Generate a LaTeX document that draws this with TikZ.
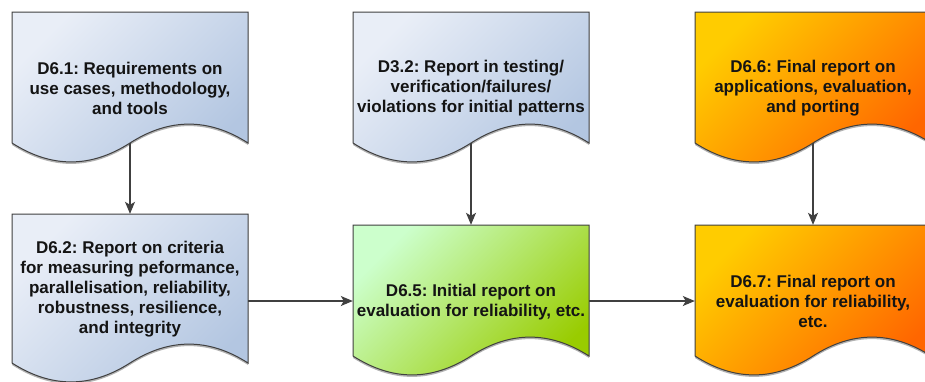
\documentclass[tikz,border=0pt]{standalone}
\usepackage{fontspec}
\setmainfont{Liberation Sans}
\frenchspacing
\usetikzlibrary{arrows.meta,shadows,calc}
\definecolor{bluetl}{HTML}{E9EEF7}
\definecolor{bluebr}{HTML}{B3C6E1}
\definecolor{greentl}{HTML}{CCFFCC}
\definecolor{greenbr}{HTML}{99CC00}
\definecolor{orangetl}{HTML}{FFCC00}
\definecolor{orangebr}{HTML}{FF6600}
\definecolor{edgecol}{HTML}{404040}
\definecolor{txtcol}{HTML}{141414}
\tikzset{
  docshape/.style={draw=edgecol, line width=1pt,
    drop shadow={shadow xshift=0pt, shadow yshift=-2pt, opacity=0.3, fill=black}},
  bluedoc/.style={top color=bluetl, bottom color=bluebr, shading angle=45},
  greendoc/.style={top color=greentl, bottom color=greenbr, shading angle=45},
  orangedoc/.style={top color=orangetl, bottom color=orangebr, shading angle=45},
  docframe/.style={inner sep=0pt, minimum width=236pt},
  doctext/.style={inner sep=0pt, align=center,
    font=\bfseries\fontsize{17}{20}\selectfont, text=txtcol},
  link/.style={draw=edgecol, line width=1.1pt,
    -{Stealth[length=12pt,width=10pt,inset=3pt]}},
}
% name, left, top, height, wave depth, style, text offset, text
\newcommand\docbox[8]{%
  \pgfmathsetmacro\dbR{#2+236}%
  \pgfmathsetmacro\dbM{#2+118}%
  \pgfmathsetmacro\dbE{#3+#4-#5/2}%
  \pgfmathsetmacro\dbU{\dbE-0.6*#5}%
  \pgfmathsetmacro\dbD{\dbE+0.6*#5}%
  \pgfmathsetmacro\dbC{#3+#4/2}%
  \path[docshape,#6] (#2,#3) -- (\dbR,#3) -- (\dbR,\dbE)
    .. controls (\dbR-39.33,\dbU) and (\dbM+39.33,\dbU) .. (\dbM,\dbE) coordinate (#1-w)
    .. controls (\dbM-39.33,\dbD) and (#2+39.33,\dbD) .. (#2,\dbE) -- cycle;
  \node[docframe, minimum height=#4pt] (#1) at (\dbM,\dbC) {};
  \node[doctext] (#1-t) at (\dbM,\dbC+#7) {#8};
}
\begin{document}
\begin{tikzpicture}[x=1pt,y=-1pt]
\useasboundingbox[fill=white] (0,0) rectangle (925,381);
\docbox{d61}{12}{12}{152}{42}{bluedoc}{0}{D6.1: Requirements on\\use cases, methodology,\\and tools}
\docbox{d32}{353}{12}{152}{42}{bluedoc}{0}{D3.2: Report in testing/\\verification/failures/\\violations for initial patterns}
\docbox{d66}{695}{12}{152}{42}{orangedoc}{0}{D6.6: Final report on\\applications, evaluation,\\and porting}
\docbox{d62}{12}{214}{170}{42}{bluedoc}{-10}{D6.2: Report on criteria\\for measuring peformance,\\parallelisation, reliability,\\robustness, resilience,\\and integrity}
\docbox{d65}{353}{225}{152}{42}{greendoc}{1}{D6.5: Initial report on\\evaluation for reliability, etc.}
\docbox{d67}{695}{225}{152}{42}{orangedoc}{0}{D6.7: Final report on\\evaluation for reliability,\\etc.}
\draw[link] (d61-w) -- (d62.north);
\draw[link] (d32-w) -- (d65.north);
\draw[link] (d66-w) -- (d67.north);
\draw[link] (d62.east |- d65.west) -- (d65.west);
\draw[link] (d65.east) -- (d67.west);
\end{tikzpicture}
\end{document}
